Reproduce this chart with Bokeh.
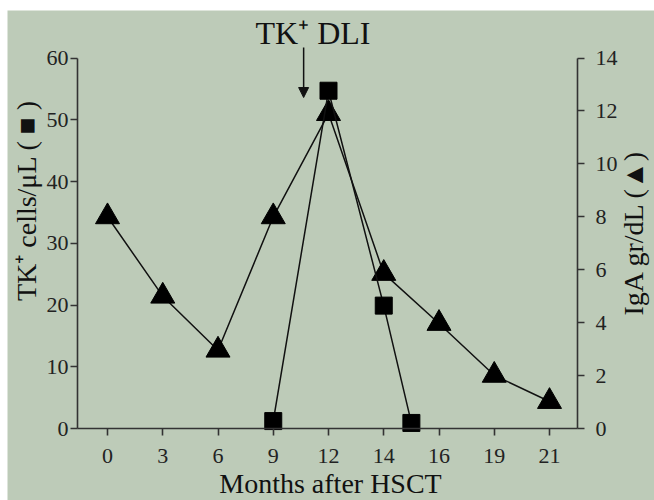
import math
from bokeh.plotting import figure
from bokeh.models import Range1d, LinearAxis, FixedTicker, Label, Arrow, NormalHead, Spacer
from bokeh.layouts import column, row
from bokeh.embed import file_html
from bokeh.resources import INLINE

months = ["0", "3", "6", "9", "12", "14", "16", "19", "21"]
tri_pos = [0, 1, 2, 3, 4, 5, 6, 7, 8]
iga = [8.0, 5.0, 2.96, 8.0, 11.9, 5.86, 3.97, 2.01, 1.02]
sq_pos = [3, 4, 5, 5.5]
tk_cells = [1.2, 54.7, 19.9, 0.9]
left_ticks = [0, 10, 20, 30, 40, 50, 60]
right_ticks = [0, 2, 4, 6, 8, 10, 12, 14]

BG = "#bdcbb8"
FONT = "Liberation Serif"
AX = "#333333"
INK = "#111111"

# geometry of the frame (whole figure is the frame; axes sit at fixed locations)
W, H = 647, 490
PX_X = 55.25      # px per month slot
X0_PX = 100       # px of first slot
Y0_PX = 418       # px of zero line
PX_L = 6.175      # px per TK cell unit
PX_R = PX_L * 60 / 14
X_LO, X_HI = -0.543, 8.507

p = figure(width=W, height=H, output_backend="svg", toolbar_location=None,
           x_range=Range1d(-X0_PX / PX_X, (W - X0_PX) / PX_X),
           y_range=Range1d(-(H - Y0_PX) / PX_L, Y0_PX / PX_L),
           min_border=0)
p.background_fill_color = BG
p.border_fill_color = BG
p.outline_line_color = None
p.grid.visible = False
p.extra_y_ranges = {"iga": Range1d(-(H - Y0_PX) / PX_R, Y0_PX / PX_R)}

# left axis
ya = p.yaxis[0]
ya.ticker = FixedTicker(ticks=left_ticks)
ya.bounds = (0, 60)
ya.fixed_location = X_LO
ya.major_label_standoff = 2

# right axis
ra = LinearAxis(y_range_name="iga", ticker=FixedTicker(ticks=right_ticks))
ra.bounds = (0, 14)
ra.fixed_location = X_HI
ra.major_label_standoff = 11
p.add_layout(ra, "right")

# x axis
xa = p.xaxis[0]
xa.ticker = FixedTicker(ticks=tri_pos)
xa.major_label_overrides = {i: m for i, m in zip(tri_pos, months)}
xa.bounds = (X_LO, X_HI)
xa.fixed_location = 0
xa.major_label_standoff = 13

for ax in (xa, ya, ra):
    ax.axis_line_color = AX
    ax.axis_line_width = 1.6
    ax.major_tick_line_color = AX
    ax.major_tick_line_width = 1.6
    ax.major_tick_in = 0
    ax.major_tick_out = 7
    ax.minor_tick_line_color = None
    ax.major_label_text_font = FONT
    ax.major_label_text_font_size = "22px"
    ax.major_label_text_color = "#222222"

# axis titles
def title(text, px, py, angle=0.0, size="28px", baseline="middle"):
    p.add_layout(Label(x=(px - 7 - X0_PX) / PX_X, y=(Y0_PX - (py - 10)) / PX_L, text=text,
                       angle=angle, text_font=FONT, text_font_size=size,
                       text_align="center", text_baseline=baseline, text_color=INK))

title("TK⁺ cells/μL ( ■ )", 26, 200, angle=math.pi / 2)
title("IgA gr/dL (▲)", 633, 232, angle=math.pi / 2)
title("Months after HSCT", 330, 483)

# series
p.line(tri_pos, iga, y_range_name="iga", line_color=INK, line_width=1.5)
p.scatter(tri_pos, iga, y_range_name="iga", marker="triangle", size=24,
          fill_color="black", line_color="black")
p.line(sq_pos, tk_cells, line_color=INK, line_width=1.5)
p.scatter(sq_pos, tk_cells, marker="square", size=17, fill_color="black", line_color="black")

# annotation
p.add_layout(Label(x=3.72, y=64.0, text="TK⁺ DLI", text_font=FONT, text_font_size="32px",
                   text_align="center", text_baseline="alphabetic", text_color=INK))
p.add_layout(Arrow(x_start=3.55, y_start=61.7, x_end=3.55, y_end=53.6,
                   line_color=INK, line_width=1.5,
                   end=NormalHead(size=10, fill_color=INK, line_color=INK)))

layout = column(Spacer(width=654, height=10), row(Spacer(width=7, height=H), p))
open("out.html", "w").write(file_html(layout, INLINE))
